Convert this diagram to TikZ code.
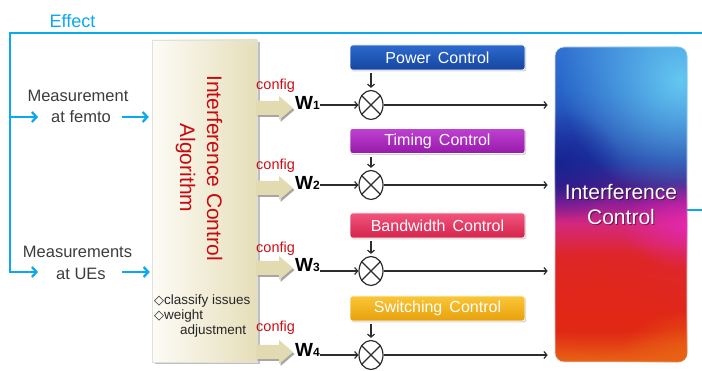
\documentclass[tikz,border=0pt]{standalone}
\usepackage{fontspec}
\setmainfont{Liberation Sans}
\newfontfamily\djv{DejaVu Sans}
\usetikzlibrary{arrows.meta,shadows,fadings,shapes.geometric}
\definecolor{fbblue}{RGB}{10,168,238}
\definecolor{darkline}{RGB}{45,45,45}
\definecolor{cfgred}{RGB}{205,15,20}
\definecolor{algred}{RGB}{200,10,15}
\definecolor{measgray}{RGB}{60,60,60}
\definecolor{beigeL}{RGB}{253,252,246}
\definecolor{beigeR}{RGB}{230,222,186}
\definecolor{cfgbeige}{RGB}{226,218,176}
\definecolor{pcT}{RGB}{45,105,205}\definecolor{pcB}{RGB}{20,70,160}
\definecolor{tcT}{RGB}{190,65,210}\definecolor{tcB}{RGB}{150,25,170}
\definecolor{bcT}{RGB}{242,85,125}\definecolor{bcB}{RGB}{212,35,75}
\definecolor{scT}{RGB}{250,198,55}\definecolor{scB}{RGB}{232,160,12}
\definecolor{ico}{RGB}{232,100,20}
\definecolor{icr1}{RGB}{225,40,20}
\definecolor{icr2}{RGB}{222,38,45}
\definecolor{icm}{RGB}{212,40,125}
\definecolor{icp}{RGB}{150,30,150}
\definecolor{icdp}{RGB}{70,30,140}
\definecolor{icdb}{RGB}{30,50,160}
\definecolor{icb}{RGB}{40,100,200}
\definecolor{icb2}{RGB}{50,115,210}
\definecolor{iclb}{RGB}{100,200,242}
\definecolor{icmag}{RGB}{228,40,180}
\definecolor{icnavy}{RGB}{20,30,140}
\pgfdeclareverticalshading{icshade}{100bp}{color(0bp)=(ico); color(25bp)=(ico); color(30bp)=(icr1); color(42bp)=(icr2); color(47bp)=(icm); color(50bp)=(icp); color(53bp)=(icdp); color(57bp)=(icdb); color(68bp)=(icb); color(75bp)=(icb2); color(100bp)=(icb2)}
\tikzfading[name=softglow, inner color=transparent!0, outer color=transparent!100]
\newcommand{\fsz}[2]{\fontsize{#1}{#2}\selectfont}
\begin{document}
\begin{tikzpicture}[x=1pt,y=-1pt,
  fb/.style={draw=fbblue, line width=2.3pt},
  fbarr/.style={fb, -{Straight Barb[length=4.5pt,width=10pt]}},
  blk/.style={draw=darkline, line width=1.2pt, -{Straight Barb[length=3pt,width=7pt]}},
  meas/.style={anchor=base, inner sep=0, text=measgray, font=\fsz{16.5}{20}},
  cfg/.style={anchor=base west, inner sep=0, text=cfgred, font=\fsz{14.5}{16}},
  wlab/.style={anchor=base west, inner sep=0, font=\bfseries\fsz{19}{20}},
  bul/.style={anchor=base west, inner sep=0, text=black!85, font=\fsz{13.5}{15}},
  ctrl/.style={rounded corners=2.5pt, minimum width=175pt, minimum height=25pt, inner sep=0,
    text=white, font=\fsz{16}{16}, draw=white, line width=0.8pt,
    drop shadow={shadow xshift=1.2pt, shadow yshift=-1.5pt, opacity=0.35}},
  mix/.style={ellipse, draw=darkline, line width=1.2pt, minimum width=24pt, minimum height=29pt, inner sep=0, fill=white},
  cross/.style={draw=darkline, line width=1.1pt},
  glow/.style={path fading=softglow}
]
\useasboundingbox (0,0) rectangle (702,371);

% feedback loop
\node[inner sep=0, anchor=base, text=fbblue, font=\fsz{18}{20}] (eff) at (72.5,28) {Effect};
\coordinate (tl) at (10,33);
\coordinate (tr) at (702,33);
\coordinate (rt) at (702,210);
\coordinate (bl) at (10,272);
\coordinate (a2) at (38,272);
\coordinate (j1) at (10,117);
\coordinate (a1) at (38,117);

% algorithm box
\node[minimum width=105pt, minimum height=322pt, inner sep=0,
  left color=beigeL, right color=beigeR, draw=black!12, line width=0.5pt,
  drop shadow={shadow xshift=2.5pt, shadow yshift=-2.5pt, opacity=0.5}] (alg) at (204.5,201) {};
\node[rotate=-90, align=center, inner sep=0, text=algred, font=\fsz{21}{27}] (algtxt) at (199,168)
  {Interference Control\\Algorithm};
\node[bul] (b1) at (154,305) {{\djv\fsz{13}{15}◇}classify issues};
\node[bul] (b2) at (154,320) {{\djv\fsz{13}{15}◇}weight};
\node[bul] (b3) at (180,335) {adjustment};

% measurements
\node[meas] (m1a) at (78,102) {Measurement};
\node[meas] (m1b) at (81,123) {at femto};
\node[meas] (m2a) at (77.5,258) {Measurements};
\node[meas] (m2b) at (81,280) {at UEs};

\draw[fbarr] (tr) -- (tl) -- (bl) -- (a2);
\draw[fbarr] (j1) -- (a1);
\draw[fbarr, shorten >=3pt] (122,117) -- (alg.west |- a1);
\draw[fbarr, shorten >=2pt] (122,272) -- (alg.west |- a2);

% config arrows
\foreach \yc in {108,188,268,352}{
  \fill[black!35] (257.5,\yc-5) -- (280.5,\yc-5) -- (280.5,\yc-10) -- (294.5,\yc+2) -- (280.5,\yc+14) -- (280.5,\yc+9) -- (257.5,\yc+9) -- cycle;
  \fill[cfgbeige] (256,\yc-7) -- (279,\yc-7) -- (279,\yc-12) -- (293,\yc) -- (279,\yc+12) -- (279,\yc+7) -- (256,\yc+7) -- cycle;
}
\node[cfg] (c1) at (256,90) {config};
\node[cfg] (c2) at (256,170) {config};
\node[cfg] (c3) at (256,253) {config};
\node[cfg] (c4) at (256,332) {config};

\node[wlab] (w1) at (295,110) {W{\fsz{12}{12}1}};
\node[wlab] (w2) at (295,190) {W{\fsz{12}{12}2}};
\node[wlab] (w3) at (295,272) {W{\fsz{12}{12}3}};
\node[wlab] (w4) at (295,357) {W{\fsz{12}{12}4}};

% control boxes
\node[ctrl, top color=pcT, bottom color=pcB] (pc) at (437.5,57.5) {Power\, Control};
\node[ctrl, top color=tcT, bottom color=tcB] (tc) at (437.5,141) {Timing\, Control};
\node[ctrl, top color=bcT, bottom color=bcB] (bc) at (437.5,225.5) {Bandwidth\, Control};
\node[ctrl, top color=scT, bottom color=scB] (sc) at (437.5,308.5) {Switching\, Control};

% mixers
\node[mix] (x1) at (371,105) {};
\node[mix] (x2) at (371,185) {};
\node[mix] (x3) at (371,271) {};
\node[mix] (x4) at (371,355) {};
\foreach \n in {x1,x2,x3,x4}{
  \draw[cross] (\n.45) -- (\n.225) (\n.135) -- (\n.315);
}

% interference control box
\node[rounded corners=9pt, minimum width=132pt, minimum height=315pt, inner sep=0,
  shading=icshade, draw=black!15, line width=0.6pt] (ic) at (621,204.5) {};
\begin{scope}
  \clip[rounded corners=9pt] (ic.north west) rectangle (ic.south east);
  \fill[iclb, glow, opacity=1] (680,80) ellipse (120 and 120);
  \fill[icnavy, glow, opacity=0.7] (560,165) ellipse (60 and 55);
  \fill[icmag, glow, opacity=0.9] (690,225) ellipse (70 and 45);
  \fill[icr1, glow, opacity=0.5] (600,295) ellipse (80 and 60);
  \fill[ico, glow, opacity=0.9] (690,355) ellipse (70 and 45);
\end{scope}
\node[align=center, inner sep=0, text=black, opacity=0.45, font=\fsz{21}{25}] (icsh) at (622,205.5) {Interference\\Control};
\node[align=center, inner sep=0, text=white, font=\fsz{21}{25}] (ictxt) at (621,204.5) {Interference\\Control};

\draw[fb] (ic.east |- rt) -- (rt);

% connectors
\foreach \w/\x in {w1/x1,w2/x2,w3/x3,w4/x4}{
  \draw[blk] (\w.east |- \x) -- (\x.west);
  \draw[blk, shorten >=7pt] (\x.east) -- (ic.west |- \x);
}
\foreach \c/\x in {pc/x1,tc/x2,bc/x3,sc/x4}{
  \draw[blk, shorten <=3pt, shorten >=2pt] (\x |- \c.south) -- (\x.north);
}
\end{tikzpicture}
\end{document}
